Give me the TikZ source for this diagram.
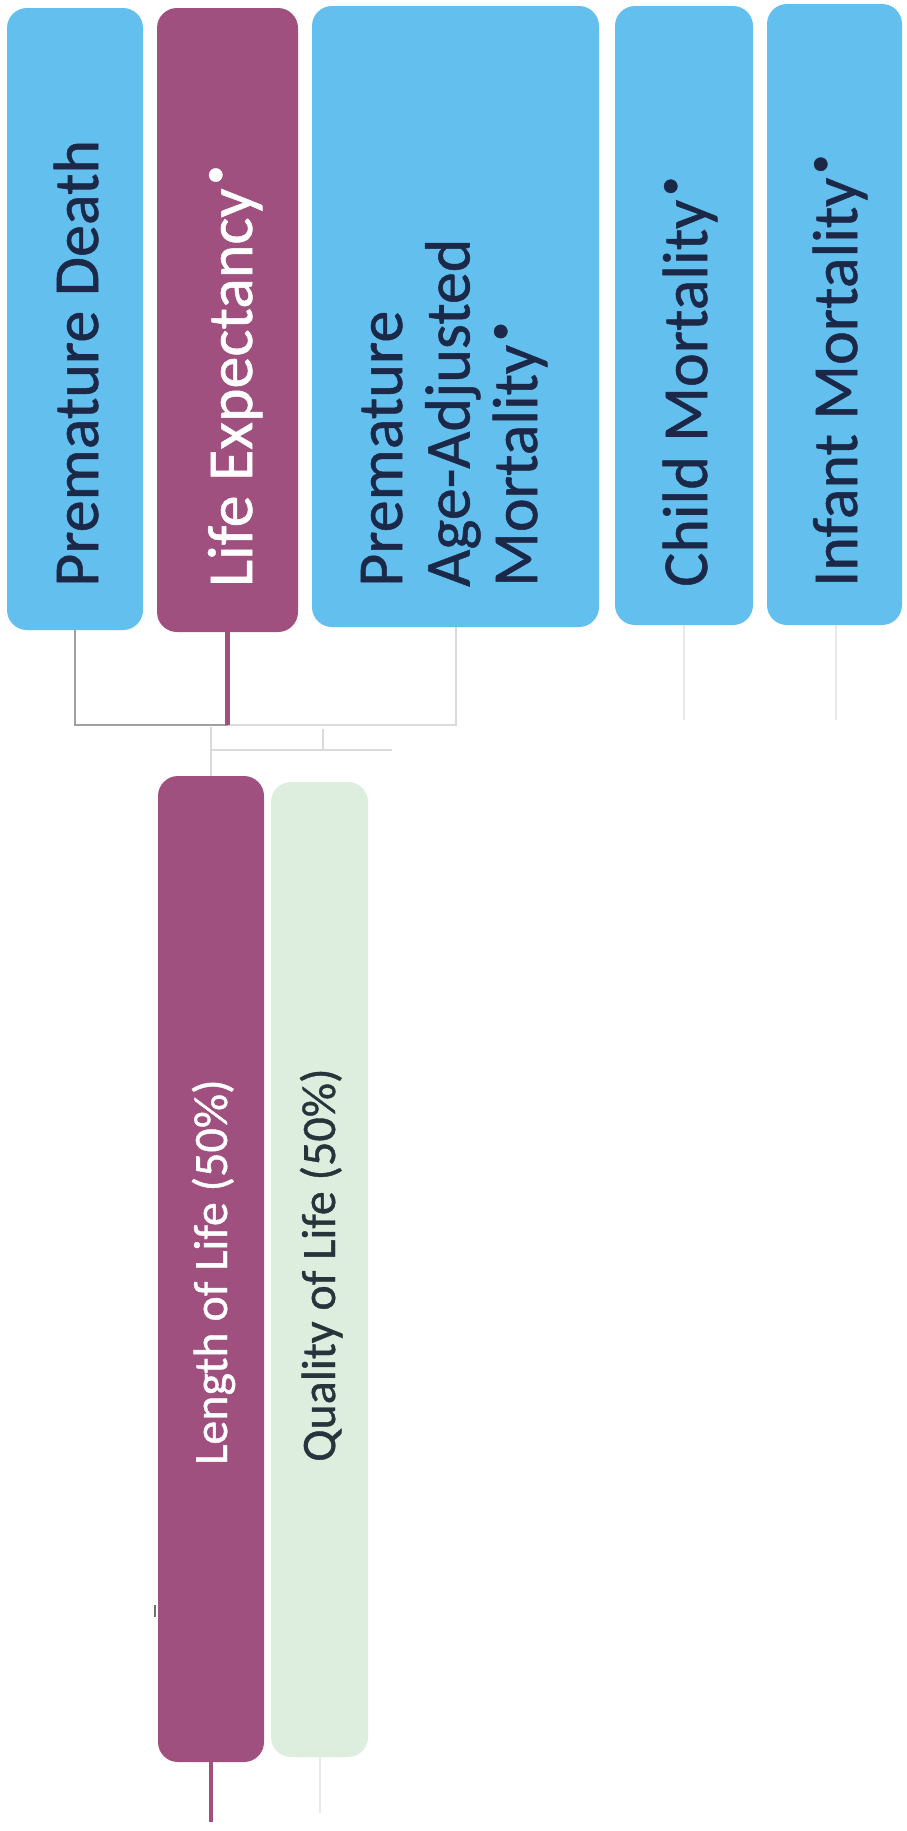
\documentclass[tikz,border=0pt]{standalone}
\usepackage{fontspec}
\setmainfont{Carlito}[FakeBold=0.8]
\definecolor{skyb}{RGB}{98,191,238}
\definecolor{plum}{RGB}{160,80,126}
\definecolor{mint}{RGB}{222,238,222}
\definecolor{navy}{RGB}{28,40,72}
\definecolor{qtext}{RGB}{40,52,60}
\definecolor{lnlight}{RGB}{218,218,218}
\definecolor{lnmid}{RGB}{160,160,160}
\definecolor{lnfaint}{RGB}{232,234,232}
\newcommand{\stardot}{\kern 4pt\raisebox{0.40em}{\fontsize{38}{38}\selectfont •}}
\tikzset{
  boxbase/.style={rectangle, rounded corners=20pt, inner sep=0pt, draw=none},
  bluebox/.style={boxbase, fill=skyb},
  plumbox/.style={boxbase, fill=plum},
  mintbox/.style={boxbase, fill=mint},
  toplabel/.style={rotate=90, anchor=base west, inner sep=0pt, font=\fontsize{64}{67.5}\selectfont},
  lowlabel/.style={rotate=90, anchor=base, inner sep=0pt, font=\fontsize{48}{50}\selectfont},
  lightline/.style={draw=lnlight, line width=2pt},
  midline/.style={draw=lnmid, line width=2.5pt},
  faintline/.style={draw=lnfaint, line width=2pt},
  plumline/.style={draw=plum, line width=4.5pt},
}
\begin{document}
\begin{tikzpicture}[x=1pt,y=-1pt]
\useasboundingbox[fill=white] (0,0) rectangle (907,1831);
% top boxes
\node[bluebox, minimum width=136pt, minimum height=622pt] (PD) at (75,319) {};
\node[plumbox, minimum width=141pt, minimum height=624pt] (LE) at (227.5,320) {};
\node[bluebox, minimum width=287pt, minimum height=621pt] (PAAM) at (455.5,316.5) {};
\node[bluebox, minimum width=138pt, minimum height=619pt] (CM) at (684,315.5) {};
\node[bluebox, minimum width=135pt, minimum height=621pt] (IM) at (834.5,314.5) {};
% top labels
\node[toplabel, text=navy] (tPD) at (98,587) {Premature Death};
\node[toplabel, text=white] (tLE) at (252,587) {Life Expectancy\stardot};
\node[toplabel, text=navy] (tPAAMa) at (402,587) {Premature};
\node[toplabel, text=navy] (tPAAMb) at (469.5,587) {Age-Adjusted};
\node[toplabel, text=navy] (tPAAMc) at (537,587) {Mortality\stardot};
\node[toplabel, text=navy] (tCM) at (707,587) {Child Mortality\stardot};
\node[toplabel, text=navy] (tIM) at (857,587) {Infant Mortality\stardot};
% lower boxes
\node[plumbox, minimum width=106pt, minimum height=986pt] (LL) at (211,1269) {};
\node[mintbox, minimum width=97pt, minimum height=975pt] (QL) at (319.5,1269.5) {};
\node[lowlabel, text=white] (tLL) at (227,1272) {Length of Life (50\%)};
\node[lowlabel, text=qtext] (tQL) at (335,1265) {Quality of Life (50\%)};
% connectors
\coordinate (jA) at (227.5,725);
\coordinate (jB) at (211,727);
\coordinate (jC) at (211,750);
\coordinate (jD) at (392,750);
\coordinate (jT) at (323,729);
\coordinate (cEnd) at (684,720);
\coordinate (iEnd) at (836,720);
\coordinate (lEnd) at (211,1822);
\coordinate (qEnd) at (319.5,1813);
\coordinate (m1) at (155,1605);
\coordinate (m2) at (155,1617);
\draw[lightline] (PAAM.south) |- (jA);
\draw[midline] (PD.south) |- (jA);
\draw[plumline] (LE.south) -- (jA);
\draw[lightline] (jB) -- (LL.north);
\draw[lightline] (jC) -- (jD);
\draw[lightline] (jT) -- (jT |- jC);
\draw[faintline] (CM.south) -- (cEnd);
\draw[faintline] (IM.south -| iEnd) -- (iEnd);
\draw[plumline] (LL.south) -- (lEnd);
\draw[faintline] (QL.south) -- (qEnd);
\draw[draw=lnmid!70!black, line width=1.5pt] (m1) -- (m2);
\end{tikzpicture}
\end{document}
